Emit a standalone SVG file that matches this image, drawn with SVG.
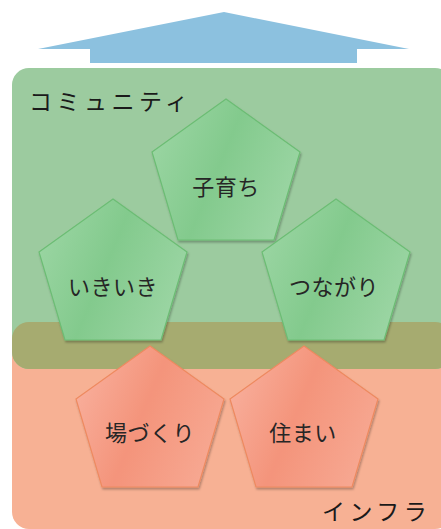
<svg xmlns="http://www.w3.org/2000/svg" xmlns:xlink="http://www.w3.org/1999/xlink" width="441" height="529" viewBox="0 0 441 529">
<style>
.lbl{font-family:"Noto Sans CJK JP","Noto Sans",sans-serif;font-size:22px;fill:#262626;text-anchor:middle;letter-spacing:0.5px}
.area{font-family:"Noto Sans CJK JP","Noto Sans",sans-serif;font-size:23px;fill:#1a1a1a;letter-spacing:4.5px}
.pg{fill:url(#gg);stroke:#6cbd74;stroke-width:1.2;filter:url(#sh)}
.po{fill:url(#go);stroke:#ee8a60;stroke-width:1.2;filter:url(#sh)}
</style>
<defs>
<linearGradient id="gg" x1="0" y1="0.3" x2="1" y2="0.7">
<stop offset="0" stop-color="#9ad5a2"/>
<stop offset="0.45" stop-color="#83ca8d"/>
<stop offset="1" stop-color="#9dd6a5"/>
</linearGradient>
<linearGradient id="go" x1="0" y1="0.3" x2="1" y2="0.7">
<stop offset="0" stop-color="#f8ae9b"/>
<stop offset="0.45" stop-color="#f4947b"/>
<stop offset="1" stop-color="#f7a993"/>
</linearGradient>
<filter id="sh" x="-10%" y="-10%" width="125%" height="125%">
<feDropShadow dx="1" dy="2" stdDeviation="1.2" flood-color="#000" flood-opacity="0.28"/>
</filter>
<path id="pent" d="M0,0 L74,53 L48,141 L-48,141 L-74,53 Z"/>
<clipPath id="oc"><rect x="12" y="322" width="440" height="207" rx="17"/></clipPath>
</defs>
<g id="arrow"><polygon points="224,12 409,49 357,49 357,63 90,63 90,49 38,49" fill="#8cc1df"/></g>
<g id="infra-area">
<rect x="12" y="322" width="440" height="207" rx="17" fill="#f7b194"/>
<text class="area" x="322" y="520">インフラ</text>
</g>
<g id="community-area">
<rect x="12" y="68" width="440" height="301" rx="17" fill="#9ccb9f"/>
<rect x="12" y="68" width="440" height="301" rx="17" fill="#a6ab70" clip-path="url(#oc)"/>
<text class="area" x="29" y="110">コミュニティ</text>
</g>
<g id="connectors"></g>
<g id="kosodachi"><use xlink:href="#pent" href="#pent" x="226" y="99" class="pg"/><text class="lbl" x="226" y="195">子育ち</text></g>
<g id="ikiiki"><use xlink:href="#pent" href="#pent" x="113" y="199" class="pg"/><text class="lbl" x="113" y="295">いきいき</text></g>
<g id="tsunagari"><use xlink:href="#pent" href="#pent" x="336" y="199" class="pg"/><text class="lbl" x="334" y="295">つながり</text></g>
<g id="bazukuri"><use xlink:href="#pent" href="#pent" x="150" y="346" class="po"/><text class="lbl" x="150" y="441">場づくり</text></g>
<g id="sumai"><use xlink:href="#pent" href="#pent" x="304" y="346" class="po"/><text class="lbl" x="303" y="441">住まい</text></g>
</svg>
